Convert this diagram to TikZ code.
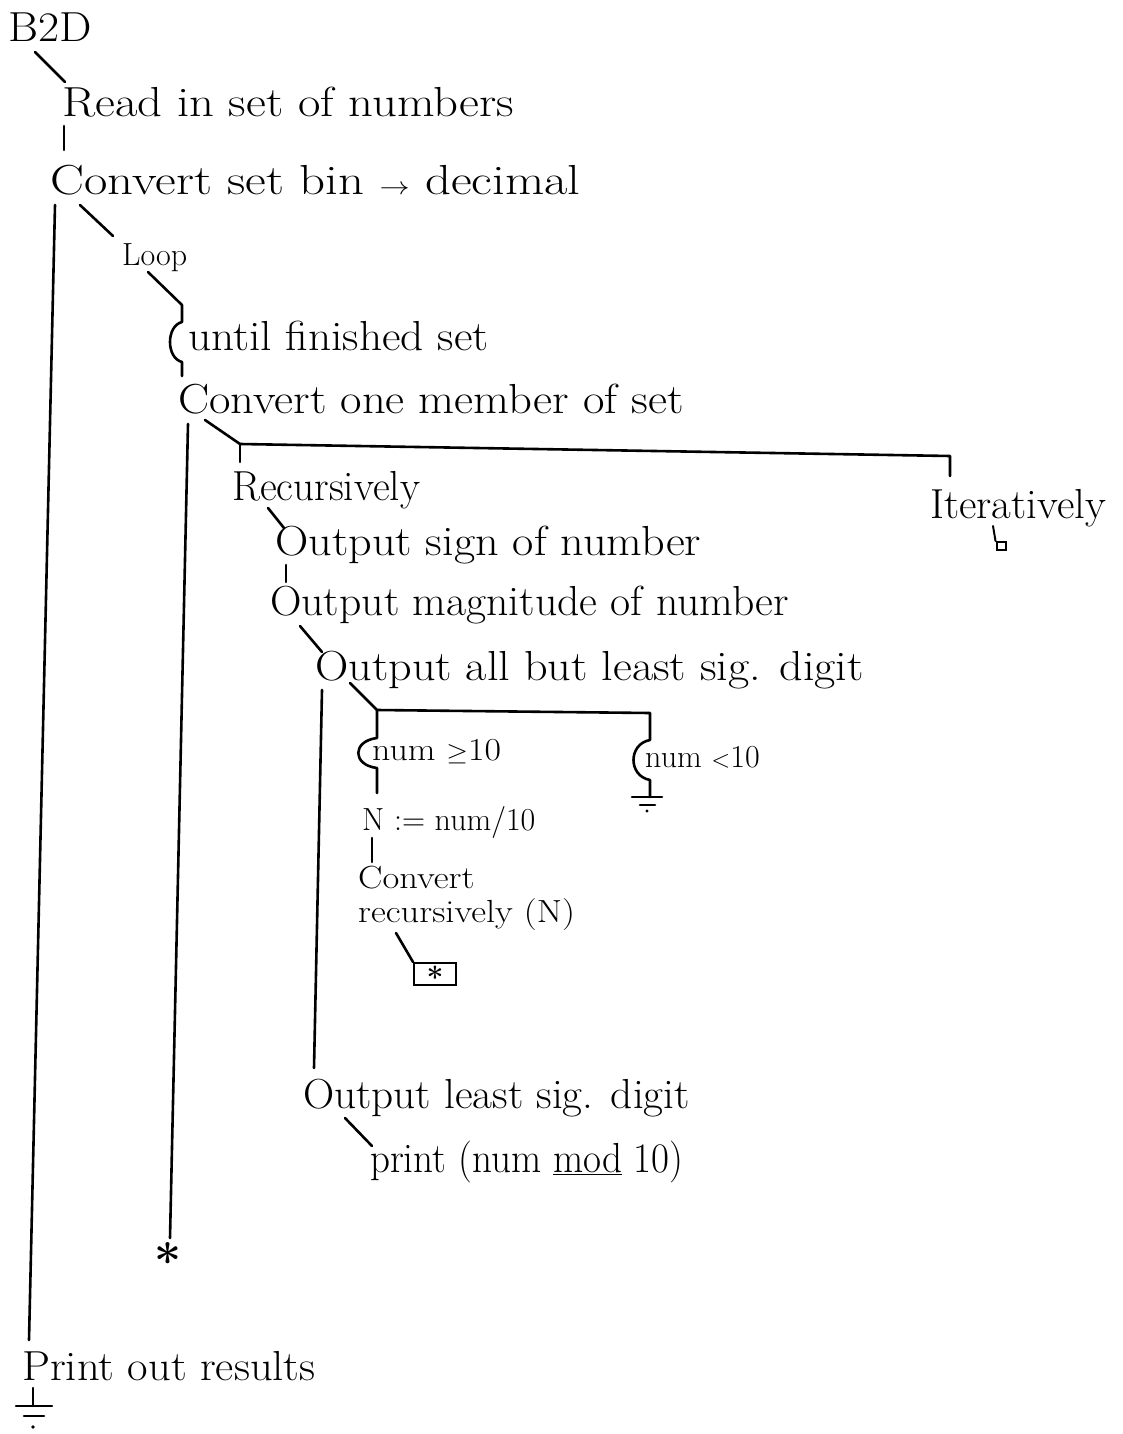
\documentclass[tikz,border=0pt]{standalone}
\usetikzlibrary{calc}
\newcommand\hwx[2]{\scalebox{#1}[1]{#2}}
\begin{document}
\begin{tikzpicture}[x=1pt,y=-1pt,
  lbl/.style={anchor=base west, inner sep=0pt, font=\fontsize{42}{46}\selectfont},
  sml/.style={anchor=base west, inner sep=0pt, font=\fontsize{32}{34}\selectfont},
  wire/.style={line width=2.6pt, line cap=round, line join=round},
  thinwire/.style={line width=2pt, line cap=round, line join=round}]
\useasboundingbox (0,0) rectangle (1123,1434);

% ---- text nodes ----
\node[lbl] (b2d) at (8,42) {\hwx{1.09}{B2D}};
\node[lbl] (read) at (62,117) {\hwx{1.16}{Read in set of numbers}};
\node[lbl] (convset) at (50,195) {\hwx{1.21}{Convert set bin $\rightarrow$ decimal}};
\node[sml] (loop) at (122,265) {Loop};
\node[lbl] (until) at (188,350) {\hwx{1.08}{until finished set}};
\node[lbl] (convone) at (178,413) {\hwx{1.11}{Convert one member of set}};
\node[lbl] (recur) at (232,500) {\hwx{0.98}{Recursively}};
\node[lbl] (iter) at (930,518) {\hwx{1.02}{Iteratively}};
\node[lbl] (sign) at (275,555) {\hwx{1.10}{Output sign of number}};
\node[lbl] (magn) at (270,615) {\hwx{1.04}{Output magnitude of number}};
\node[lbl] (allbut) at (315,680) {\hwx{1.10}{Output all but least sig. digit}};
\node[sml] (ge) at (372,760) {\hwx{1.12}{num $\geq$10}};
\node[sml] (lt) at (645,767) {num $<$10};
\node[sml] (nassign) at (362,830) {N := num/10};
\node[sml, anchor=north west, align=left] (convrec) at (358,866) {\hwx{1.14}{Convert}\\\hwx{1.14}{recursively (N)}};
\node[lbl] (least) at (303,1108) {\hwx{1.03}{Output least sig. digit}};
\node[lbl] (print) at (370,1172) {\hwx{0.93}{print (num \underline{mod} 10)}};
\node[lbl] (results) at (22,1380) {\hwx{1.06}{Print out results}};
\node[anchor=north, inner sep=0pt, font=\fontsize{48}{50}\selectfont\bfseries] (star) at (168,1242) {*};
\node[draw, line width=2pt, minimum width=42pt, minimum height=22pt, inner sep=0pt] (recbox) at (435,974) {};
\node[anchor=north, inner sep=0pt, font=\fontsize{30}{32}\selectfont\bfseries] (recstar) at (435,966) {*};
\node[draw, line width=2pt, minimum width=9pt, minimum height=8pt, inner sep=0pt] (itbox) at (1001,546) {};

% ---- coordinates ----
\coordinate (b2dA) at (35,52);   \coordinate (b2dB) at (65,82);
\coordinate (rdA) at (64,126);   \coordinate (rdB) at (64,150);
\coordinate (mainA) at (55,205); \coordinate (mainB) at (29,1340);
\coordinate (lpA) at (80,205);   \coordinate (lpB) at (113,236);
\coordinate (unA) at (148,272);  \coordinate (unB) at (182,305);
\coordinate (unC) at (182,322);  \coordinate (unD) at (182,362);
\coordinate (unE) at (182,376);
\coordinate (c1A) at (188,424);  \coordinate (c1B) at (170,1238);
\coordinate (brA) at (205,420);  \coordinate (brB) at (240,444);
\coordinate (brC) at (950,456);  \coordinate (brD) at (950,476);
\coordinate (brE) at (240,462);
\coordinate (itA) at (993,526);
\coordinate (sgA) at (268,508);  \coordinate (sgB) at (284,528);
\coordinate (mgA) at (286,565);  \coordinate (mgB) at (286,582);
\coordinate (abA) at (300,626);  \coordinate (abB) at (322,652);
\coordinate (lsA) at (322,690);  \coordinate (lsB) at (314,1068);
\coordinate (ifA) at (350,683);  \coordinate (ifB) at (377,710);
\coordinate (ifC) at (650,713);  \coordinate (ifD) at (650,740);
\coordinate (ifE) at (650,780);  \coordinate (ifF) at (650,797);
\coordinate (geA) at (377,738);  \coordinate (geB) at (377,768);
\coordinate (geC) at (377,793);
\coordinate (nA) at (372,838);   \coordinate (nB) at (372,862);
\coordinate (cbA) at (396,933);
\coordinate (prA) at (345,1118); \coordinate (prB) at (372,1146);
\coordinate (gA) at (33,1388);   \coordinate (gB) at (33,1406);

% ---- connectors ----
\draw[wire] (b2dA) -- (b2dB);
\draw[wire] (rdA) -- (rdB);
\draw[wire] (mainA) -- (mainB);
\draw[wire] (lpA) -- (lpB);
\draw[wire] (unA) -- (unB) -- (unC) .. controls (166,326) and (166,358) .. (unD) -- (unE);
\draw[wire] (c1A) -- (c1B);
\draw[wire] (brA) -- (brB) -- (brC) -- (brD);
\draw[wire] (brB) -- (brE);
\draw[thinwire] (itA) -- (itbox.north west);
\draw[wire] (sgA) -- (sgB);
\draw[wire] (mgA) -- (mgB);
\draw[wire] (abA) -- (abB);
\draw[wire] (lsA) -- (lsB);
\draw[wire] (ifA) -- (ifB) -- (ifC) -- (ifD) .. controls (628,744) and (628,776) .. (ifE) -- (ifF);
\draw[wire] (ifB) -- (geA) .. controls (352,741) and (352,765) .. (geB) -- (geC);
\draw[wire] (nA) -- (nB);
\draw[wire] (cbA) -- (recbox.north west);
\draw[wire] (prA) -- (prB);
% ground symbols
\draw[wire] (632,797) -- (662,797);
\draw[wire] (640,805) -- (655,805);
\fill (647,811) circle (1.6);
\draw[wire] (gA) -- (gB);
\draw[wire] (16,1406) -- (52,1406);
\draw[wire] (24,1416) -- (44,1416);
\fill (33,1427) circle (1.8);
\end{tikzpicture}
\end{document}
